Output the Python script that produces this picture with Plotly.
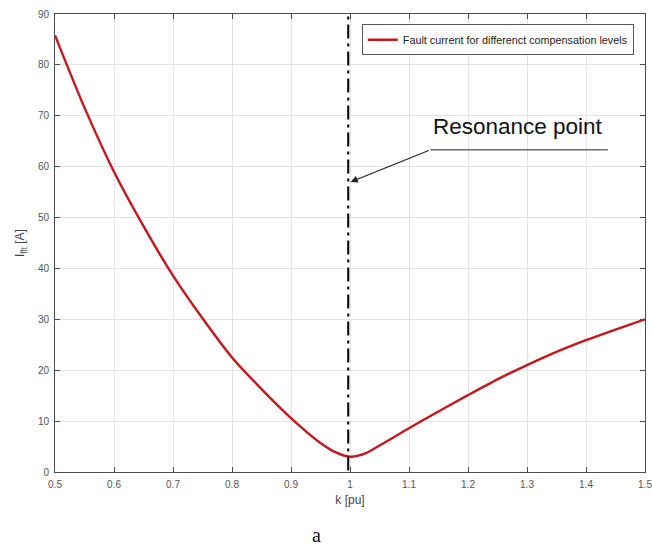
import plotly.graph_objects as go

# ---- data ----
k_pu = [0.5, 0.55, 0.6, 0.65, 0.7, 0.75, 0.8, 0.85, 0.9, 0.95, 0.975, 1.0,
        1.025, 1.05, 1.1, 1.15, 1.2, 1.25, 1.3, 1.35, 1.4, 1.45, 1.5]
i_flt = [85.8, 71.6, 59.0, 48.3, 38.6, 30.2, 22.5, 16.3, 10.6, 5.7, 3.9, 3.0,
         3.6, 5.2, 8.6, 11.9, 15.1, 18.2, 21.0, 23.6, 25.9, 28.0, 30.0]
resonance_k = [0.997, 0.997]
resonance_y = [0.3, 90]
series_name = "Fault current for differenct compensation levels"
x_ticks = [0.5, 0.6, 0.7, 0.8, 0.9, 1.0, 1.1, 1.2, 1.3, 1.4, 1.5]
x_tick_text = ["0.5", "0.6", "0.7", "0.8", "0.9", "1", "1.1", "1.2", "1.3", "1.4", "1.5"]
y_ticks = [0, 10, 20, 30, 40, 50, 60, 70, 80, 90]

# annotation anchor values (data units)
arrow_tip = (1.001, 57.0)
arrow_tail = (1.136, 63.3)
underline_end = 1.437
label_pos = (1.284, 67.8)

FONT = "Liberation Sans, Arial, sans-serif"
AXC = "#4d4d4d"

fig = go.Figure()
fig.add_trace(go.Scatter(
    x=k_pu, y=i_flt, mode="lines", name=series_name,
    line=dict(color="#c8161d", width=2.4, shape="spline", smoothing=0.8),
))
fig.add_trace(go.Scatter(
    x=resonance_k, y=resonance_y, mode="lines", showlegend=False,
    line=dict(color="black", width=2, dash="14px,5px,3px,5px"),
))

fig.add_shape(type="line", xref="x", yref="y",
              x0=arrow_tail[0], y0=arrow_tail[1], x1=underline_end, y1=arrow_tail[1],
              line=dict(color="#222", width=1))
fig.add_annotation(x=arrow_tip[0], y=arrow_tip[1], ax=arrow_tail[0], ay=arrow_tail[1],
                   xref="x", yref="y", axref="x", ayref="y", text="",
                   showarrow=True, arrowhead=2, arrowsize=1.3, arrowwidth=1.1,
                   arrowcolor="#222")
fig.add_annotation(x=label_pos[0], y=label_pos[1], xref="x", yref="y",
                   text="Resonance point", showarrow=False,
                   font=dict(family=FONT, size=22.5, color="#111"))
fig.add_annotation(x=0.4424, y=-0.1376, xref="paper", yref="paper",
                   text="a", showarrow=False, xanchor="center", yanchor="middle",
                   font=dict(family="Liberation Serif, Times New Roman, serif", size=20, color="#111"))

axis_common = dict(
    showgrid=True, gridcolor="#e3e3e3", gridwidth=1,
    showline=True, linecolor=AXC, linewidth=1, mirror="ticks",
    ticks="inside", ticklen=5, tickcolor=AXC, zeroline=False,
    tickfont=dict(family=FONT, size=10, color="#555"),
    automargin=False, ticklabeloverflow="allow",
)

fig.update_xaxes(range=[0.5, 1.5], tickvals=x_ticks, ticktext=x_tick_text,
                 title=dict(text="k [pu]", font=dict(family=FONT, size=12, color="#444"), standoff=6),
                 ticklabelstandoff=3, **axis_common)
fig.update_yaxes(range=[0, 90], tickvals=y_ticks,
                 title=dict(text="I<sub>flt</sub> [A]", font=dict(family=FONT, size=12, color="#444"), standoff=10),
                 ticklabelstandoff=3, **axis_common)

fig.update_layout(
    width=652, height=547,
    margin=dict(l=55, r=7, t=14, b=75),
    paper_bgcolor="white", plot_bgcolor="white",
    showlegend=True,
    legend=dict(x=0.981, y=0.9775, xanchor="right", yanchor="top",
                bgcolor="white", bordercolor="#555", borderwidth=1,
                font=dict(family=FONT, size=10.8, color="#222"),
                itemwidth=30, tracegroupgap=0),
)

# remove the default page margin so the figure fills the window exactly
fig.write_html("out.html",
               config={"displayModeBar": False},
               post_script="document.body.style.margin='0';document.body.style.overflow='hidden';")
